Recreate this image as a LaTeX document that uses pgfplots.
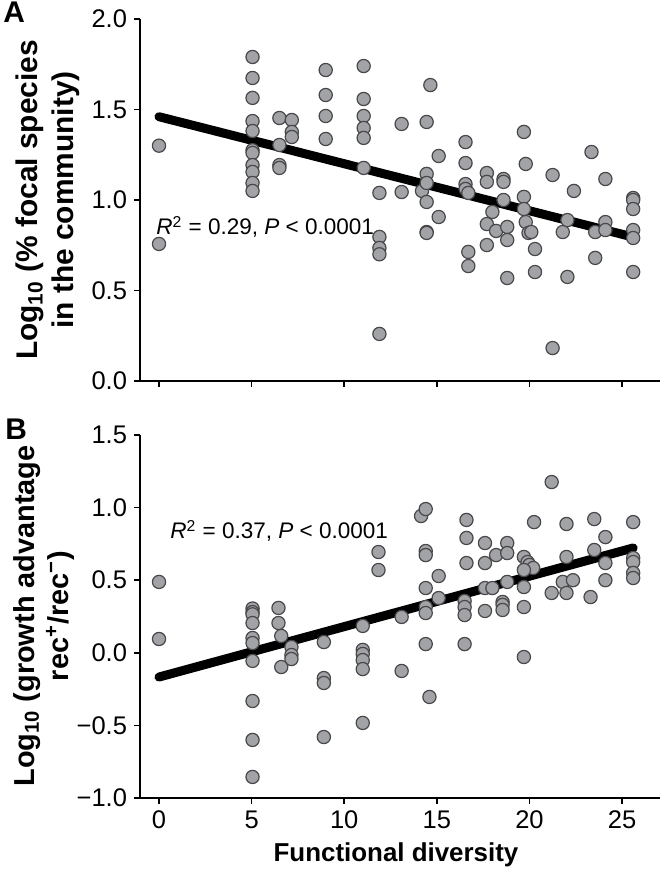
\documentclass[border=0pt]{standalone}
\usepackage{fontspec}
\setmainfont{Liberation Sans}
\usepackage{pgfplots}
\pgfplotsset{compat=1.18}
\definecolor{ptfill}{RGB}{162,163,167}
\definecolor{ptedge}{RGB}{72,72,74}
\pgfplotsset{
 myax/.style={scale only axis, axis x line*=bottom, axis y line*=left,
   axis line style={line width=0.8bp,-}, tick style={line width=0.8bp, black},
   tick align=outside, major tick length=3bp,
   xmin=-1.026, xmax=27.05, xtick={0,5,10,15,20,25},
   ticklabel style={font=\fontsize{12.8}{15}\selectfont},
   /pgf/number format/assume math mode=true, clip=false, width=260bp},
 pts/.style={only marks, mark=*, mark size=3.3bp,
   mark options={fill=ptfill, draw=ptedge, line width=0.6bp}},
 fit/.style={black, line width=4.5bp, line cap=round, no marks}
}
\begin{document}
\begin{tikzpicture}[x=1bp,y=1bp]
\useasboundingbox (0,0) rectangle (330,435);
% ---------- Panel A ----------
\begin{axis}[myax, at={(70bp,244.5bp)}, anchor=south west, height=181bp,
  ymin=0, ymax=2, ytick={0,0.5,1,1.5,2},
  yticklabels={0.0,0.5,1.0,1.5,2.0}, xticklabels={}]
\addplot[fit] coordinates {(0,1.46) (25.6,0.795)};
\addplot[pts] coordinates {
(0,1.30) (0,0.757)
(5.05,1.79) (5.05,1.674) (5.05,1.564) (5.05,1.436) (5.05,1.381) (5.05,1.275) (5.05,1.26)
(5.05,1.193) (5.05,1.155) (5.05,1.094) (5.05,1.05)
(6.5,1.453) (6.5,1.304) (6.5,1.193) (6.5,1.177)
(7.17,1.442) (7.17,1.376) (7.17,1.348)
(9.0,1.718) (9.0,1.58) (9.0,1.464) (9.0,1.337)
(11.05,1.74) (11.05,1.558) (11.05,1.464) (11.05,1.398) (11.05,1.343) (11.05,1.177)
(11.9,1.039) (11.9,0.796) (11.9,0.735) (11.9,0.70) (11.9,0.26)
(13.1,1.42) (13.1,1.044)
(14.2,1.05)
(14.45,1.431) (14.45,1.144) (14.45,1.094) (14.45,0.989) (14.45,0.823) (14.45,0.818)
(14.65,1.635)
(15.1,1.243) (15.1,0.906)
(16.55,1.32) (16.55,1.204) (16.55,1.088) (16.55,1.061) (16.7,1.039) (16.7,0.713) (16.7,0.635)
(17.7,1.149) (17.7,1.10) (17.7,0.867) (17.7,0.751)
(18.0,0.934) (18.2,0.829)
(18.6,1.116) (18.6,1.10) (18.6,1.0)
(18.8,0.851) (18.8,0.779) (18.8,0.569)
(19.7,1.376) (19.8,1.199) (19.7,1.017) (19.7,0.950) (19.8,0.878) (19.95,0.818) (20.1,0.823)
(20.3,0.729) (20.3,0.602)
(21.25,1.138) (21.25,0.182)
(21.8,0.823) (22.05,0.889) (22.05,0.575)
(22.4,1.05)
(23.35,1.265)
(23.55,0.823) (23.55,0.68)
(24.1,1.116) (24.1,0.878) (24.1,0.834)
(25.6,1.011) (25.6,1.0) (25.6,0.95) (25.6,0.834) (25.6,0.79) (25.6,0.602)
};
\end{axis}
% ---------- Panel B ----------
\begin{axis}[myax, at={(70bp,36bp)}, anchor=south west, height=181.5bp,
  ymin=-1, ymax=1.5, ytick={-1,-0.5,0,0.5,1,1.5},
  yticklabels={−1.0,−0.5,0.0,0.5,1.0,1.5}, xticklabels={0,5,10,15,20,25}]
\addplot[fit] coordinates {(0,-0.167) (25.6,0.722)};
\addplot[pts] coordinates {
(0,0.488) (0,0.095)
(5.05,0.305) (5.05,0.28) (5.05,0.265) (5.05,0.205) (5.05,0.102) (5.05,0.067) (5.05,-0.056)
(5.05,-0.332) (5.05,-0.60) (5.05,-0.855)
(6.45,0.309) (6.45,0.205) (6.6,0.116) (6.6,-0.098)
(7.15,0.04) (7.15,-0.015) (7.15,-0.043)
(8.9,0.074) (8.9,-0.174) (8.9,-0.208) (8.9,-0.58)
(11.0,0.185) (11.0,0.02) (11.0,-0.008) (11.0,-0.05) (11.0,-0.112) (11.0,-0.483)
(11.85,0.694) (11.85,0.570)
(13.1,0.247) (13.1,-0.125)
(14.15,0.942) (14.4,0.99) (14.4,0.701) (14.4,0.673) (14.4,0.446) (14.4,0.315) (14.4,0.274) (14.4,0.06) (14.6,-0.304)
(15.1,0.529) (15.1,0.377)
(16.6,0.915) (16.6,0.791) (16.6,0.618) (16.5,0.357) (16.5,0.315) (16.5,0.26) (16.5,0.06)
(17.6,0.756) (17.6,0.618) (17.6,0.446) (17.6,0.288)
(18.0,0.446) (18.2,0.673)
(18.8,0.756) (18.8,0.687) (18.8,0.488)
(18.55,0.35) (18.55,0.33) (18.55,0.295)
(19.7,0.66) (19.9,0.625) (20.0,0.605) (20.2,0.584) (19.7,0.57) (19.7,0.453) (19.7,0.315) (19.7,-0.029)
(20.25,0.90)
(21.2,1.176) (21.2,0.412)
(21.8,0.488) (22.35,0.50) (22.0,0.887) (22.0,0.66) (22.0,0.412)
(23.3,0.384) (23.5,0.921) (23.5,0.708)
(24.1,0.797) (24.1,0.618) (24.1,0.50)
(25.6,0.90) (25.6,0.653) (25.6,0.625) (25.6,0.55) (25.6,0.515)
};
\end{axis}
% ---------- labels ----------
\node[anchor=base west, inner sep=0, font=\fontsize{15}{17}\selectfont\bfseries] at (1.5,423.5) {A};
\node[anchor=base west, inner sep=0, font=\fontsize{15}{17}\selectfont\bfseries] at (2.5,215) {B};
\node[rotate=90, align=center, inner sep=0, font=\fontsize{15}{18}\selectfont\bfseries] at (24,335)
  {Log\textsubscript{10} (\% focal species\\in the community)};
\node[rotate=90, align=center, inner sep=0, font=\fontsize{14.5}{17}\selectfont\bfseries] at (22,127)
  {Log\textsubscript{10} (growth advantage\\rec\textsuperscript{+}/rec\textsuperscript{−})};
\node[anchor=base, inner sep=0, font=\fontsize{13}{16}\selectfont\bfseries] at (198,4) {Functional diversity};
\node[anchor=base west, inner sep=0, font=\fontsize{11.3}{14}\selectfont] at (78,317.5)
  {\textit{R}\textsuperscript{2} = 0.29, \textit{P} < 0.0001};
\node[anchor=base west, inner sep=0, font=\fontsize{11.3}{14}\selectfont] at (85,165.5)
  {\textit{R}\textsuperscript{2} = 0.37, \textit{P} < 0.0001};
\end{tikzpicture}
\end{document}
